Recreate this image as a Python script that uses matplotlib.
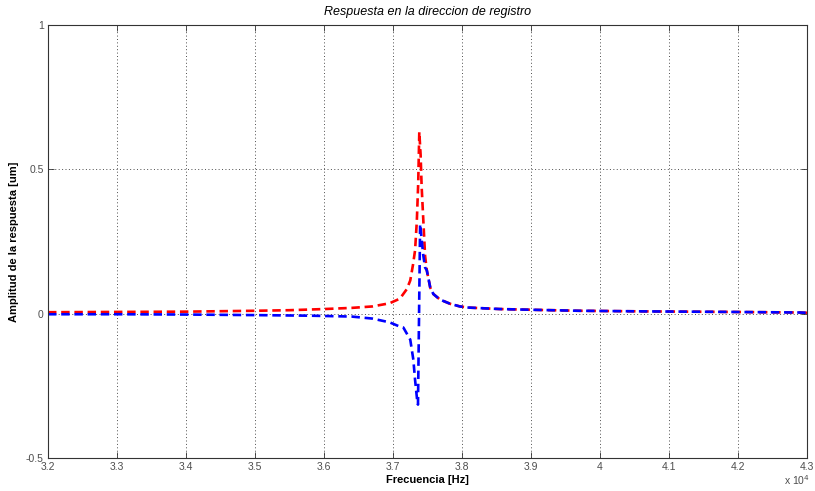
import matplotlib
matplotlib.use('Agg')
import matplotlib.pyplot as plt
from matplotlib.ticker import FuncFormatter

plt.rcParams['font.family'] = ['Liberation Sans', 'DejaVu Sans']

# frequencies [Hz] and response values
freq_red = [32000, 33000, 34000, 35000, 35500, 36000, 36400, 36700, 36950,
            37100, 37200, 37250, 37290, 37320, 37345, 37365, 37381, 37400,
            37415, 37440, 37465, 37490, 37540, 37585, 37680, 37830, 37970,
            38100, 38550, 39100, 39700, 40600, 41900, 42900, 43000]
amp_red = [0.005, 0.006, 0.007, 0.010, 0.012, 0.016, 0.020, 0.025, 0.036,
           0.052, 0.085, 0.115, 0.17, 0.22, 0.32, 0.45, 0.63, 0.55,
           0.44, 0.32, 0.20, 0.15, 0.09, 0.068, 0.049, 0.034, 0.025,
           0.021, 0.016, 0.013, 0.010, 0.008, 0.006, 0.004, 0.003]

freq_blue = [32000, 33000, 34000, 35000, 35800, 36400, 36700, 36950, 37100,
             37150, 37250, 37295, 37320, 37350, 37362, 37393, 37416, 37440,
             37465, 37490, 37540, 37585, 37680, 37830, 37970, 38100, 38550,
             39100, 39700, 40600, 41900, 42900, 43000]
amp_blue = [-0.002, -0.002, -0.003, -0.005, -0.007, -0.010, -0.017, -0.030, -0.045,
            -0.048, -0.09, -0.16, -0.23, -0.30, -0.315, 0.31, 0.255, 0.20,
            0.16, 0.15, 0.09, 0.068, 0.049, 0.034, 0.025, 0.021, 0.016,
            0.013, 0.010, 0.008, 0.006, 0.004, 0.003]

xticks = [32000 + 1000 * i for i in range(12)]
yticks = [-0.5, 0, 0.5, 1]

fig = plt.figure(figsize=(8.15, 4.91), dpi=100)
ax = fig.add_axes([0.0589, 0.0672, 0.9313, 0.8819])

ax.plot(freq_red, amp_red, color='#ff0000', lw=1.9, dashes=(3.2, 1.8))
ax.plot(freq_blue, amp_blue, color='#0000ff', lw=1.9, dashes=(3.2, 1.8))

ax.set_xlim(32000, 43000)
ax.set_ylim(-0.5, 1)
ax.set_xticks(xticks)
ax.set_yticks(yticks)
ax.xaxis.set_major_formatter(FuncFormatter(lambda v, p: '%g' % (v / 1e4)))
ax.yaxis.set_major_formatter(FuncFormatter(lambda v, p: '%g' % v))
ax.tick_params(direction='in', length=4, width=0.6, labelsize=7.5,
               labelcolor='0.3', color='0.2', pad=3, top=True, right=True)
ax.grid(True, color='0.3', linestyle=(0, (1, 2.5)), linewidth=0.7)
for s in ax.spines.values():
    s.set_linewidth(0.8)
    s.set_color('0.2')

ax.set_title('Respuesta en la direccion de registro', fontsize=9, style='italic', pad=7)
ax.set_xlabel('Frecuencia [Hz]', fontsize=8, fontweight='bold', labelpad=2)
ax.set_ylabel('Amplitud de la respuesta [um]', fontsize=8, fontweight='bold', labelpad=5)
fig.text(0.962, 0.012, r'x 10$^4$', fontsize=7.5, color='0.3')

fig.savefig('out.png', dpi=100)
